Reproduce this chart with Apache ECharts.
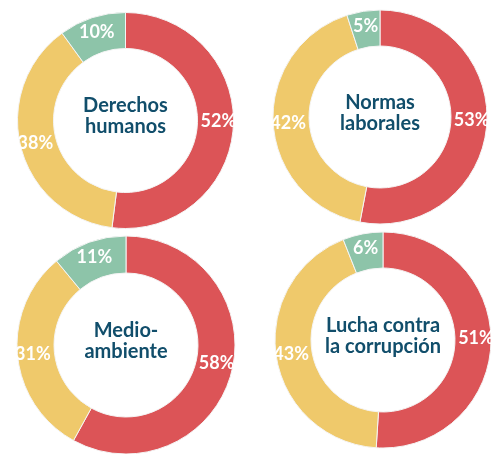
<!DOCTYPE html>
<html><head><meta charset="utf-8">
<script src="https://cdn.jsdelivr.net/npm/echarts@6/dist/echarts.min.js"></script>
<style>html,body{margin:0;padding:0;background:#fff}#c{width:491px;height:454px}</style>
</head><body><div id="c"></div>
<script>
const titles = ["Derechos\nhumanos", "Normas\nlaborales", "Medio-\nambiente", "Lucha contra\nla corrupción"];
const redValues = [52, 53, 58, 51];
const yellowValues = [38, 42, 31, 43];
const greenValues = [10, 5, 11, 6];
const colors = ["#DC5457", "#EFC96B", "#8DC4A9"];
const centers = [[125.5, 120.5], [380, 117], [126, 345], [383, 340]];
const radii = [[72, 108], [71, 107], [72, 109], [72, 108]];

const chart = echarts.init(document.getElementById('c'), null, {renderer: 'canvas'});
const series = titles.map((t, i) => ({
  type: 'pie',
  center: centers[i],
  radius: radii[i],
  startAngle: 90,
  clockwise: true,
  silent: true,
  label: {
    show: true, position: 'inside', formatter: '{c}%',
    color: '#fff', fontFamily: 'Lato', fontWeight: 'bold', fontSize: 18
  },
  labelLine: {show: false},
  itemStyle: {borderColor: '#f4f4f4', borderWidth: 1},
  data: [
    {value: redValues[i], itemStyle: {color: colors[0]}, label: {offset: [0, -5]}},
    {value: yellowValues[i], itemStyle: {color: colors[1]}},
    {value: greenValues[i], itemStyle: {color: colors[2]}}
  ]
}));
const graphic = titles.map((t, i) => ({
  type: 'text',
  x: centers[i][0],
  y: centers[i][1] - 4,
  style: {
    text: t, fill: '#114E6B', font: 'bold 20px Lato',
    align: 'center', verticalAlign: 'middle', lineHeight: 21
  }
}));
chart.setOption({animation: false, series, graphic});
</script></body></html>
